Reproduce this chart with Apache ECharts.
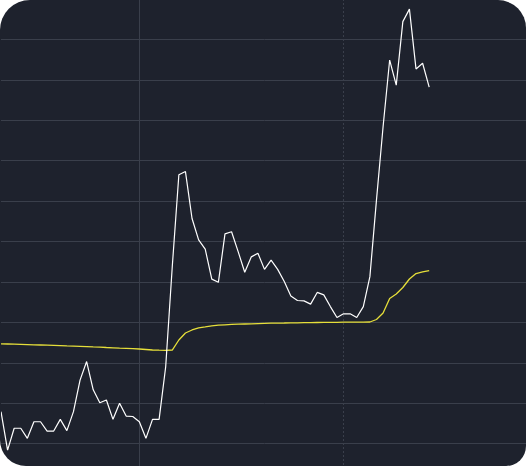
<!DOCTYPE html>
<html>
<head>
<meta charset="utf-8">
<script src="https://cdn.jsdelivr.net/npm/echarts@6/dist/echarts.min.js"></script>
<style>
  html, body { margin: 0; padding: 0; background: #ffffff; }
  #wrap {
    position: relative;
    width: 526px; height: 466px; overflow: hidden;
    background: #1e222d;
    border-radius: 30px 28px 20px 26px;
  }
  #chart { position: absolute; left: 1px; top: -1px; width: 527px; height: 485px; }
</style>
</head>
<body>
<div id="wrap"><div id="chart"></div></div>
<script>
// Categories (time slots on the x axis; labels not shown in the picture)
const categories = [
  "0","1","2","3","4","5","6","7","8","9",
  "10","11","12","13","14","15","16","17","18","19",
  "20","21","22","23","24","25","26","27","28","29",
  "30","31","32","33","34","35","36","37","38","39",
  "40","41","42","43","44","45","46","47","48","49",
  "50","51","52","53","54","55","56","57","58","59",
  "60","61","62","63","64","65","66","67","68","69",
  "70","71","72","73","74","75","76","77","78","79",
  "80"
];

// Price (white line)
const priceValues = [
  17.9, 8.4, 13.8, 13.8, 11.3, 15.4, 15.4, 13.1, 13.1, 16.0,
  13.2, 17.9, 25.7, 30.3, 23.3, 20.1, 20.8, 16.0, 20.0, 16.8,
  16.7, 15.4, 11.3, 16.0, 16.0, 29.0, 53.8, 76.5, 77.3, 65.7,
  60.4, 58.1, 50.7, 49.9, 61.9, 62.4, 57.5, 52.4, 56.2, 57.1,
  53.1, 55.4, 53.1, 50.1, 46.5, 45.4, 45.3, 44.5, 47.4, 46.8,
  43.9, 41.2, 42.1, 42.1, 41.2, 43.9, 51.3, 70.3, 88.4, 104.9,
  98.7, 114.4, 117.5, 102.7, 104.1, 98.2
];

// Average price (yellow line)
const averageValues = [
  34.69, 34.64, 34.59, 34.54, 34.49, 34.44, 34.39, 34.34, 34.29, 34.24,
  34.17, 34.12, 34.07, 34.00, 33.92, 33.85, 33.77, 33.70, 33.62, 33.55,
  33.48, 33.40, 33.28, 33.15, 33.10, 33.08, 33.15, 35.63, 37.36, 38.11,
  38.65, 38.89, 39.14, 39.29, 39.39, 39.49, 39.54, 39.59, 39.64, 39.69,
  39.74, 39.79, 39.81, 39.83, 39.86, 39.88, 39.91, 39.93, 39.96, 39.98,
  40.01, 40.01, 40.03, 40.03, 40.06, 40.06, 40.08, 40.70, 42.31, 45.90,
  47.01, 48.62, 50.72, 52.08, 52.50, 52.82
];

const gridColor = '#3a3f4b';

const chart = echarts.init(document.getElementById('chart'), null, { renderer: 'canvas' });
chart.setOption({
  animation: false,
  backgroundColor: 'transparent',
  grid: { left: 0, right: 0, top: 0, bottom: 0, containLabel: false },
  xAxis: [
    {
      type: 'category', data: categories, boundaryGap: false,
      axisLine: { show: false }, axisTick: { show: false }, axisLabel: { show: false },
      splitLine: { show: true, interval: function (i) { return i === 21; },
        lineStyle: { color: gridColor, width: 1, type: 'solid' } }
    },
    {
      type: 'category', data: categories, boundaryGap: false,
      axisLine: { show: false }, axisTick: { show: false }, axisLabel: { show: false },
      splitLine: { show: true, interval: function (i) { return i === 52; },
        lineStyle: { color: gridColor, width: 1, type: [2, 2] } }
    }
  ],
  yAxis: {
    type: 'value', min: 0, max: 120, interval: 10,
    axisLine: { show: false }, axisTick: { show: false }, axisLabel: { show: false },
    splitLine: { show: true, lineStyle: { color: gridColor, width: 1 } }
  },
  series: [
    {
      type: 'line', xAxisIndex: 0, data: averageValues, symbol: 'none',
      lineStyle: { color: '#e6df3a', width: 1.3 }, z: 3
    },
    {
      type: 'line', xAxisIndex: 0, data: priceValues, symbol: 'none',
      lineStyle: { color: '#ffffff', width: 1.2 }, z: 4
    }
  ]
});
</script>
</body>
</html>
